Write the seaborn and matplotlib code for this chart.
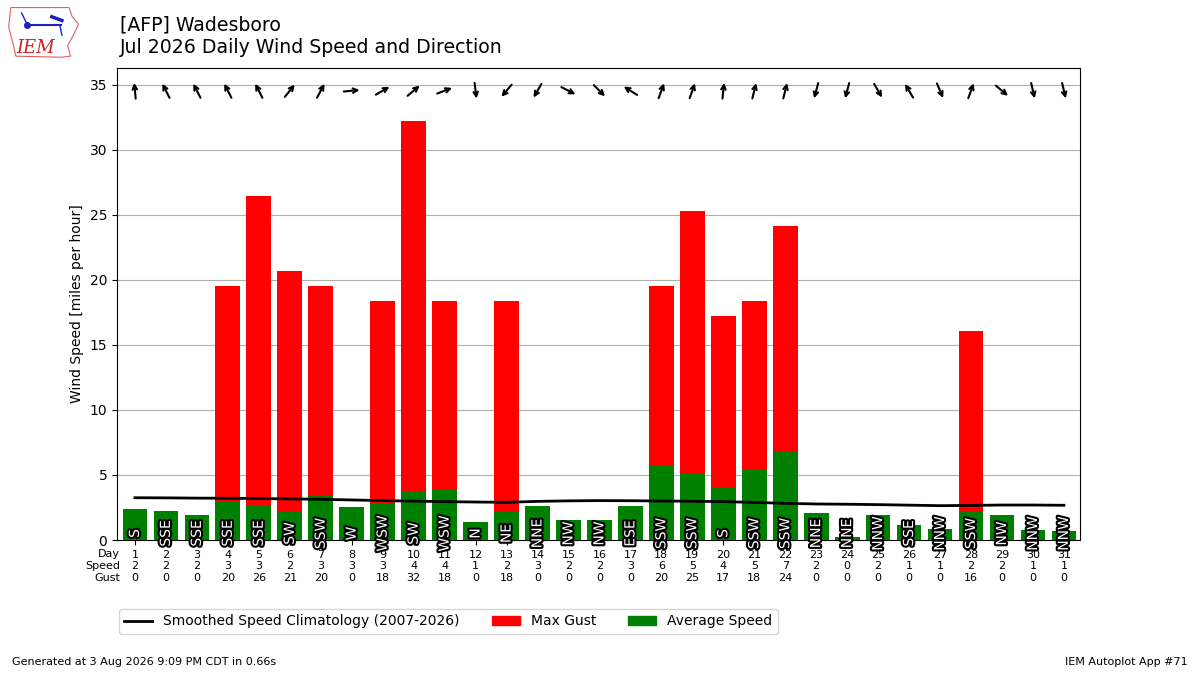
import matplotlib
matplotlib.use("Agg")
import matplotlib.pyplot as plt
import matplotlib.patheffects as pe
from matplotlib.lines import Line2D
from matplotlib.patches import Patch, Polygon
from matplotlib.transforms import offset_copy
import numpy as np
import seaborn as sns

days = list(range(1, 32))
avg_speed = [2.38, 2.23, 1.92, 3.02, 2.69, 2.23, 3.46, 2.54, 2.87, 3.77,
             3.92, 1.38, 2.23, 2.64, 1.54, 1.54, 2.64, 5.77, 5.15, 4.05,
             5.46, 6.85, 2.08, 0.23, 1.95, 1.15, 0.85, 2.23, 1.95, 0.77, 0.69]
max_gust = [0, 0, 0, 19.56, 26.47, 20.71, 19.56, 0, 18.41, 32.22,
            18.41, 0, 18.41, 0, 0, 0, 0, 19.56, 25.32, 17.26,
            18.41, 24.17, 0, 0, 0, 0, 0, 16.11, 0, 0, 0]
climo = [3.25, 3.24, 3.22, 3.21, 3.19, 3.16, 3.13, 3.08, 3.03, 2.99,
         2.95, 2.92, 2.90, 2.97, 3.01, 3.03, 3.02, 3.00, 2.98, 2.95,
         2.89, 2.82, 2.77, 2.75, 2.72, 2.68, 2.64, 2.66, 2.69, 2.69, 2.67]
drct_deg = [175, 153, 153, 153, 153, 219, 208, 264, 240, 230,
            249, 353, 40, 30, 297, 315, 122, 200, 200, 186,
            194, 194, 15, 15, 330, 150, 337, 200, 310, 347, 347]
drct_txt = ["S", "SSE", "SSE", "SSE", "SSE", "SW", "SSW", "W", "WSW", "SW",
            "WSW", "N", "NE", "NNE", "NW", "NW", "ESE", "SSW", "SSW", "S",
            "SSW", "SSW", "NNE", "NNE", "NNW", "SSE", "NNW", "SSW", "NW", "NNW", "NNW"]

fig = plt.figure(figsize=(12, 6.75), dpi=100)
ax = fig.add_axes([0.0975, 0.2, 0.8025, 0.6993])

sns.barplot(x=days, y=max_gust, color="red", saturation=1, native_scale=True,
            width=0.8, ax=ax, zorder=2)
sns.barplot(x=days, y=avg_speed, color="green", saturation=1, native_scale=True,
            width=0.8, ax=ax, zorder=3)
sns.lineplot(x=days, y=climo, color="black", lw=2, ax=ax, zorder=4)

for d, txt in zip(days, drct_txt):
    ax.text(d, 0.5, txt, rotation=90, ha="center", va="center", fontsize=10,
            color="white", zorder=5,
            path_effects=[pe.withStroke(linewidth=3, foreground="black")])

# wind arrows along the top, pointing where the wind blows to
half = 5.7
for d, deg in zip(days, drct_deg):
    rad = np.radians(deg + 180)
    dx, dy = half * np.sin(rad), half * np.cos(rad)
    ax.annotate("", xy=(d, 34.55), xytext=(d, 34.55),
                xycoords=offset_copy(ax.transData, fig=fig, x=dx, y=dy, units="points"),
                textcoords=offset_copy(ax.transData, fig=fig, x=-dx, y=-dy, units="points"),
                arrowprops=dict(arrowstyle="->", lw=1.5, color="black",
                                mutation_scale=8, shrinkA=0, shrinkB=0), zorder=5)

ax.set_xlim(0.42, 31.52)
ax.set_ylim(0, 36.3)
ax.set_yticks(range(0, 36, 5))
ax.yaxis.grid(True, color="#b0b0b0", lw=0.8)
ax.set_axisbelow(True)
ax.set_xticks(days)
ax.set_xticklabels([f"{d}\n{s:.0f}\n{g:.0f}" for d, s, g in zip(days, avg_speed, max_gust)],
                   fontsize=8)
ax.set_xlabel("")
ax.set_ylabel("Wind Speed [miles per hour]")
fig.text(0.1, 0.186, "Day\nSpeed\nGust", ha="right", va="top", fontsize=8)

handles = [Line2D([], [], color="black", lw=2),
           Patch(color="red"), Patch(color="green")]
labels = ["Smoothed Speed Climatology (2007-2026)", "Max Gust", "Average Speed"]
ax.legend(handles, labels, ncol=3, loc="upper left", bbox_to_anchor=(0.002, -0.146),
          borderaxespad=0, fontsize=10, columnspacing=2.3)

fig.text(0.1, 0.977, "[AFP] Wadesboro\nJul 2026 Daily Wind Speed and Direction",
         ha="left", va="top", fontsize=13.6)
fig.text(0.01, 0.015, "Generated at 3 Aug 2026 9:09 PM CDT in 0.66s", fontsize=8)
fig.text(0.99, 0.015, "IEM Autoplot App #71", fontsize=8, ha="right")

# rough logo
lax = fig.add_axes([0.006, 0.912, 0.06, 0.08])
lax.set_xlim(0, 10)
lax.set_ylim(0, 10)
lax.axis("off")
lax.add_patch(Polygon([[0.5, 9.6], [8.6, 9.6], [9.0, 8.0], [9.9, 6.5], [9.2, 4.5],
                       [8.4, 2.6], [8.8, 0.6], [7.5, 0.4], [1.2, 0.6], [0.8, 3.0],
                       [0.2, 6.0]], closed=True, fill=False, ec="#e06060", lw=0.8))
lax.plot([2.8, 7.5], [6.4, 6.4], color="#2020c0", lw=1.5)
lax.plot([2.8], [6.4], "o", color="#2020c0", ms=4)
lax.plot([2.0, 2.8], [8.6, 6.4], color="#2020c0", lw=1)
lax.plot([6.2, 7.6], [7.9, 7.2], color="#2020c0", lw=2.5)
lax.plot([7.3, 7.6], [6.4, 4.5], color="#2020c0", lw=1)
lax.text(4.0, 2.2, "IEM", color="#d02020", fontsize=13, family="DejaVu Serif",
         style="italic", ha="center", va="center")

fig.savefig("out.png", dpi=100)
